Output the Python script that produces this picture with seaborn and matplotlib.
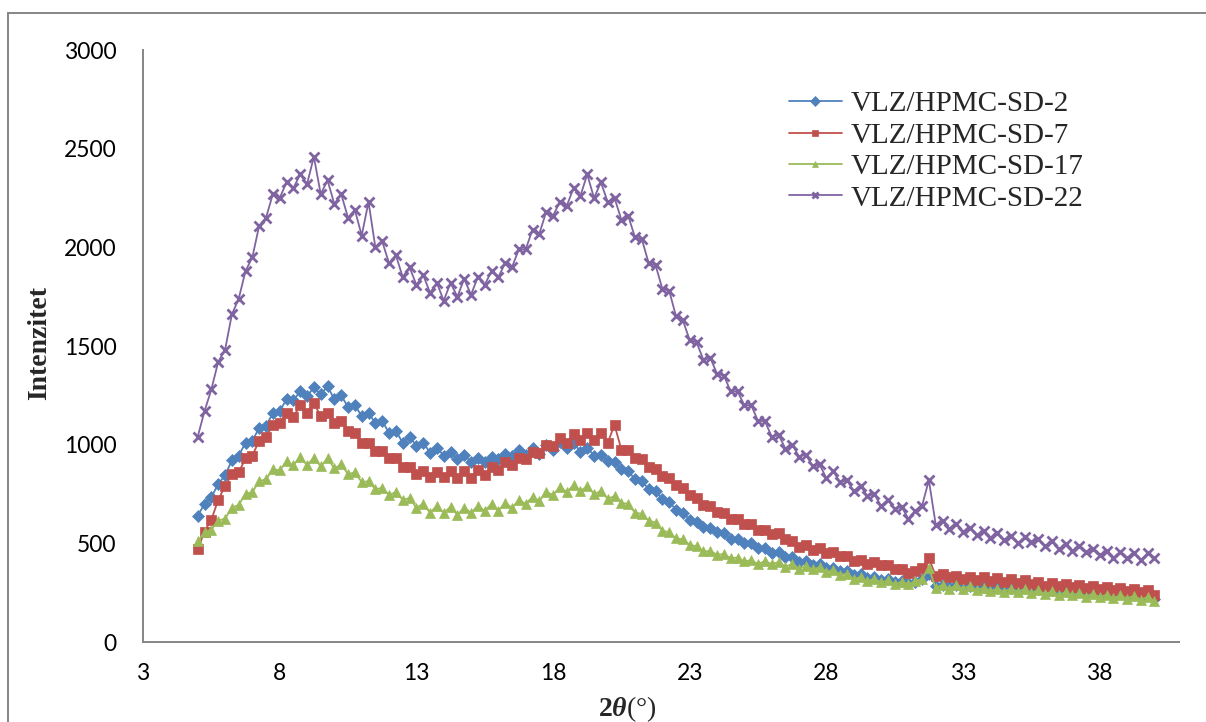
import numpy as np
import pandas as pd
import seaborn as sns
from matplotlib import pyplot as plt
from matplotlib.lines import Line2D

sns.set_style("white")
plt.rcParams["font.family"] = ["Lato", "DejaVu Sans"]
plt.rcParams["mathtext.fontset"] = "custom"
plt.rcParams["mathtext.rm"] = "Liberation Serif"
plt.rcParams["mathtext.it"] = "Liberation Serif:italic:bold"
plt.rcParams["mathtext.bf"] = "Liberation Serif:bold"

# 2theta grid (0.25 deg steps, 5..40)
theta = np.arange(5, 40.001, 0.25)

labels = ["VLZ/HPMC-SD-2", "VLZ/HPMC-SD-7", "VLZ/HPMC-SD-17", "VLZ/HPMC-SD-22"]
colors = ["#4F81BD", "#C0504D", "#9BBB59", "#8064A2"]
markers = ["D", "s", "^", "x"]
msizes = [6.0, 6.5, 7.0, 6.5]

# intensities
sd2 = [640, 700, 735, 800, 845, 920, 945, 1010, 1020, 1085, 1095, 1160, 1170, 1230, 1225, 1270,
       1245, 1290, 1255, 1295, 1230, 1250, 1190, 1200, 1145, 1160, 1110, 1120, 1060, 1070, 1010, 1040,
       995, 1010, 960, 985, 945, 965, 925, 950, 910, 935, 910, 940, 925, 955, 945, 975,
       950, 985, 955, 1000, 975, 1015, 985, 1010, 965, 985, 945, 950, 915, 910, 875, 865,
       825, 815, 775, 765, 725, 710, 670, 655, 620, 610, 585, 580, 555, 550, 520, 520,
       500, 500, 478, 475, 452, 455, 430, 430, 405, 410, 390, 395, 375, 375, 360, 360,
       340, 345, 325, 330, 315, 320, 305, 310, 300, 305, 320, 345, 285, 290, 280, 290,
       275, 285, 272, 280, 268, 278, 265, 275, 262, 272, 258, 268, 255, 265, 250, 260,
       246, 258, 244, 255, 240, 252, 236, 248, 232, 245, 228, 240, 218]

sd7 = [470, 560, 620, 720, 790, 850, 860, 930, 945, 1020, 1040, 1100, 1110, 1160, 1140, 1200,
       1160, 1210, 1145, 1160, 1110, 1120, 1070, 1060, 1010, 1010, 970, 970, 935, 930, 885, 885,
       850, 865, 835, 860, 835, 865, 830, 865, 830, 870, 845, 885, 870, 910, 895, 935,
       925, 965, 960, 1000, 995, 1035, 1010, 1055, 1025, 1060, 1025, 1060, 1010, 1100, 975, 975,
       935, 925, 885, 875, 840, 830, 795, 780, 745, 730, 695, 690, 660, 655, 625, 625,
       598, 600, 570, 570, 545, 550, 520, 510, 482, 490, 468, 475, 450, 455, 435, 435,
       410, 415, 395, 405, 388, 390, 370, 370, 350, 360, 375, 425, 335, 345, 328, 335,
       318, 330, 312, 328, 310, 322, 305, 318, 300, 312, 295, 305, 285, 300, 282, 295,
       278, 290, 272, 285, 268, 280, 262, 275, 258, 270, 252, 262, 240]

sd17 = [510, 555, 570, 615, 625, 680, 695, 750, 760, 815, 825, 875, 870, 915, 895, 940,
        895, 935, 890, 930, 880, 900, 850, 860, 810, 815, 775, 780, 745, 760, 720, 730,
        680, 700, 655, 690, 655, 685, 645, 680, 655, 690, 665, 700, 665, 705, 680, 720,
        700, 735, 715, 760, 745, 785, 760, 795, 765, 790, 750, 765, 725, 740, 705, 700,
        655, 650, 615, 605, 565, 555, 525, 520, 492, 485, 460, 460, 443, 445, 425, 428,
        408, 415, 395, 410, 395, 405, 382, 395, 372, 385, 368, 378, 356, 365, 342, 345,
        318, 330, 308, 320, 302, 312, 292, 305, 292, 308, 320, 375, 272, 290, 270, 288,
        270, 285, 262, 275, 258, 270, 255, 270, 255, 268, 248, 262, 242, 256, 238, 252,
        236, 248, 230, 245, 226, 240, 222, 236, 220, 234, 215, 228, 208]

sd22 = [1040, 1170, 1280, 1420, 1480, 1660, 1740, 1880, 1950, 2110, 2150, 2270, 2250, 2330, 2300, 2370,
        2320, 2460, 2270, 2340, 2220, 2270, 2150, 2190, 2060, 2230, 2000, 2030, 1920, 1960, 1850, 1900,
        1810, 1860, 1770, 1820, 1730, 1820, 1750, 1840, 1760, 1850, 1810, 1880, 1850, 1920, 1900, 1990,
        1990, 2090, 2070, 2180, 2160, 2230, 2210, 2300, 2260, 2370, 2250, 2330, 2230, 2250, 2140, 2160,
        2050, 2040, 1920, 1910, 1790, 1780, 1650, 1630, 1530, 1520, 1430, 1440, 1360, 1350, 1270, 1270,
        1200, 1200, 1120, 1120, 1040, 1050, 980, 1000, 940, 950, 890, 900, 830, 865, 810, 820,
        765, 790, 740, 750, 690, 720, 675, 685, 625, 665, 690, 820, 595, 615, 575, 600,
        560, 580, 540, 565, 525, 550, 515, 535, 500, 530, 505, 520, 485, 510, 470, 495,
        460, 485, 455, 470, 440, 460, 425, 455, 425, 450, 415, 450, 425]

series = [sd2, sd7, sd17, sd22]

fig = plt.figure(figsize=(12.06, 7.22), dpi=100)
ax = fig.add_axes([0.1186, 0.1108, 0.8590, 0.8199])

for vals, name, c, m, ms in zip(series, labels, colors, markers, msizes):
    sns.lineplot(x=theta, y=vals, ax=ax, color=c, marker=m, markersize=ms,
                 markeredgecolor=c, markeredgewidth=2.0 if m == "x" else 0.5,
                 linewidth=1.3, label=name, estimator=None, sort=False)

ax.set_xlim(3, 40.9)
ax.set_ylim(0, 3000)
ax.set_xticks(range(3, 40, 5))
ax.set_yticks(range(0, 3001, 500))
ax.set_xlabel("")
ax.set_ylabel("")
ax.tick_params(length=0, labelsize=16.5, colors="black")
ax.tick_params(axis="y", pad=19)
ax.tick_params(axis="x", pad=15)
for s in ["top", "right"]:
    ax.spines[s].set_visible(False)
for s in ["left", "bottom"]:
    ax.spines[s].set_color("#868686")
    ax.spines[s].set_linewidth(1.4)

fig.text(40 / 1206, 1 - 343 / 722, "Intenzitet", rotation=90, ha="center", va="center",
         family="Liberation Serif", weight="bold", fontsize=20)
fig.text(627 / 1206, 1 - 709 / 722, r"$\mathbf{2}\theta$(°)", ha="center", va="center",
         family="Liberation Serif", fontsize=20)

leg = ax.legend(loc="upper left", bbox_to_anchor=(789 / 1206, 1 - 91 / 722),
                bbox_transform=fig.transFigure, frameon=False, borderpad=0, borderaxespad=0,
                handlelength=1.8, handletextpad=0.3, labelspacing=0.17, numpoints=1,
                prop={"family": "Liberation Serif", "size": 21})
for h in leg.legend_handles:
    h.set_markersize(5)
    h.set_linewidth(1.3)

# outer chart border (top and left visible)
fig.add_artist(Line2D([8 / 1206, 8 / 1206], [0, 1 - 13 / 722], transform=fig.transFigure,
                      color="#868686", lw=1.4))
fig.add_artist(Line2D([8 / 1206, 1], [1 - 13 / 722, 1 - 13 / 722], transform=fig.transFigure,
                      color="#868686", lw=1.4))

fig.savefig("out.png", dpi=100)
